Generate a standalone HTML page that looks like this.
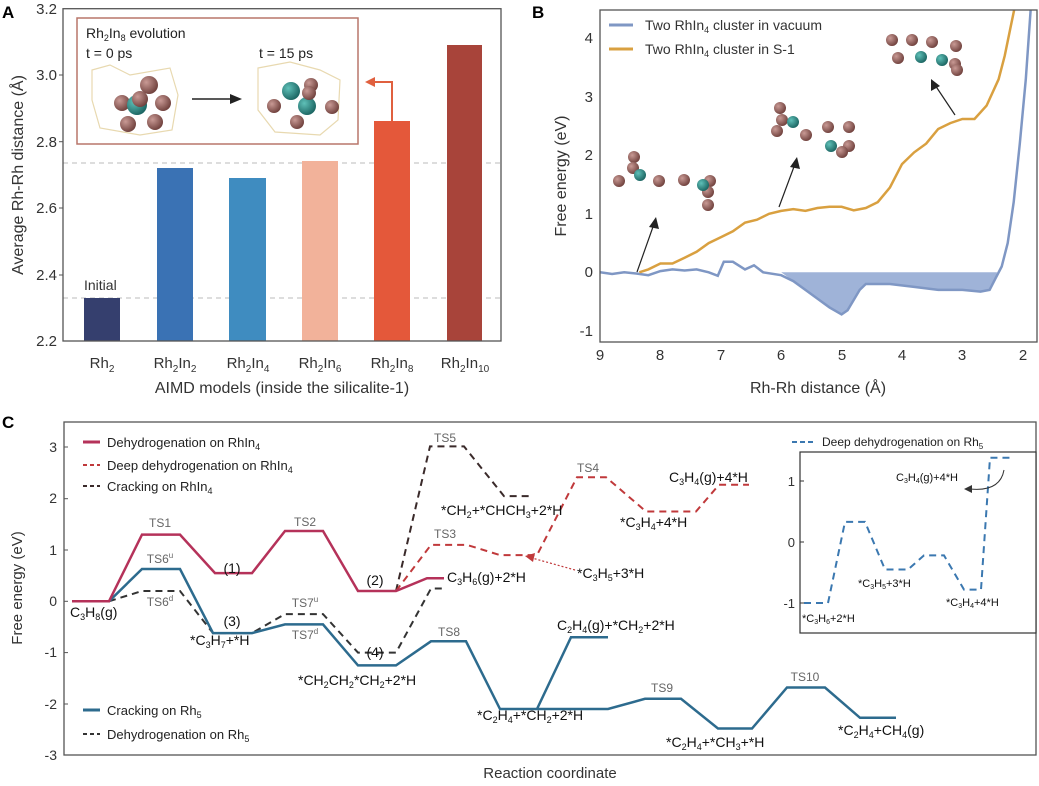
<!DOCTYPE html>
<html><head><meta charset="utf-8"><style>
body{margin:0;background:#fff}
svg{display:block;font-family:"Liberation Sans",sans-serif}
</style></head><body>
<svg width="1039" height="786" viewBox="0 0 1039 786" xmlns="http://www.w3.org/2000/svg">
<defs>
<radialGradient id="br" cx="0.35" cy="0.35" r="0.7"><stop offset="0" stop-color="#c99a95"/><stop offset="1" stop-color="#6e3f3b"/></radialGradient>
<radialGradient id="tl" cx="0.35" cy="0.35" r="0.7"><stop offset="0" stop-color="#5fc0b8"/><stop offset="1" stop-color="#1a6360"/></radialGradient>
<clipPath id="cb"><rect x="600" y="10" width="438" height="332"/></clipPath>
</defs>
<!-- PANEL A -->
<text x="2" y="18" font-size="17" font-weight="bold">A</text>
<g stroke="#bbb" stroke-dasharray="5,4" stroke-width="1"><line x1="63" y1="298" x2="501" y2="298"/><line x1="63" y1="163" x2="501" y2="163"/></g>
<rect x="84" y="298" width="36" height="43" fill="#353f6e"/>
<rect x="157" y="168" width="36" height="173" fill="#3a72b4"/>
<rect x="229" y="178" width="37" height="163" fill="#3f8cc0"/>
<rect x="302" y="161" width="36" height="180" fill="#f2b29a"/>
<rect x="374" y="121" width="36" height="220" fill="#e4583a"/>
<rect x="447" y="45" width="35" height="296" fill="#a8443a"/>
<rect x="63" y="8.7" width="438" height="332.3" fill="none" stroke="#555" stroke-width="1.3"/>
<g font-size="15" fill="#333" text-anchor="end">
<text x="57" y="14">3.2</text><text x="57" y="80">3.0</text><text x="57" y="147">2.8</text><text x="57" y="213">2.6</text><text x="57" y="280">2.4</text><text x="57" y="346">2.2</text></g>
<g stroke="#555"><line x1="63" y1="75" x2="59" y2="75"/><line x1="63" y1="141.7" x2="59" y2="141.7"/><line x1="63" y1="208" x2="59" y2="208"/><line x1="63" y1="275" x2="59" y2="275"/></g>
<text x="84" y="290" font-size="14" fill="#333">Initial</text>
<g font-size="15" fill="#333" text-anchor="middle">
<text x="102" y="368">Rh<tspan font-size="10" dy="4">2</tspan></text>
<text x="175" y="368">Rh<tspan font-size="10" dy="4">2</tspan><tspan dy="-4">In</tspan><tspan font-size="10" dy="4">2</tspan></text>
<text x="248" y="368">Rh<tspan font-size="10" dy="4">2</tspan><tspan dy="-4">In</tspan><tspan font-size="10" dy="4">4</tspan></text>
<text x="320" y="368">Rh<tspan font-size="10" dy="4">2</tspan><tspan dy="-4">In</tspan><tspan font-size="10" dy="4">6</tspan></text>
<text x="392" y="368">Rh<tspan font-size="10" dy="4">2</tspan><tspan dy="-4">In</tspan><tspan font-size="10" dy="4">8</tspan></text>
<text x="465" y="368">Rh<tspan font-size="10" dy="4">2</tspan><tspan dy="-4">In</tspan><tspan font-size="10" dy="4">10</tspan></text>
<text x="282" y="393" font-size="16">AIMD models (inside the silicalite-1)</text>
<text transform="translate(23,175) rotate(-90)" font-size="16">Average Rh-Rh distance (Å)</text>
</g>
<rect x="77" y="18" width="281" height="126" fill="#fff" stroke="#b9766a" stroke-width="1.5"/>
<text x="86" y="38" font-size="14" fill="#222">Rh<tspan font-size="9" dy="3">2</tspan><tspan dy="-3">In</tspan><tspan font-size="9" dy="3">8</tspan><tspan dy="-3"> evolution</tspan></text>
<text x="86" y="58" font-size="14" fill="#222">t = 0 ps</text>
<text x="259" y="58" font-size="14" fill="#222">t = 15 ps</text>
<line x1="192" y1="99" x2="232" y2="99" stroke="#222" stroke-width="1.5"/><polygon points="242,99 230,94 230,104" fill="#222"/>
<g fill="none" stroke="#e8d9b0" stroke-width="1.2"><path d="M92,70 L110,65 L130,75 L170,68 L178,95 L172,130 L140,135 L100,128 L92,100Z"/><path d="M258,68 L290,62 L320,70 L340,80 L338,120 L320,135 L275,132 L258,110Z"/></g>
<circle cx="149" cy="85" r="9" fill="url(#br)"/><circle cx="122" cy="103" r="8" fill="url(#br)"/><circle cx="137" cy="105" r="10" fill="url(#tl)"/><circle cx="140" cy="99" r="8" fill="url(#br)"/><circle cx="163" cy="103" r="8" fill="url(#br)"/><circle cx="128" cy="124" r="8" fill="url(#br)"/><circle cx="155" cy="122" r="8" fill="url(#br)"/>
<circle cx="291" cy="91" r="9" fill="url(#tl)"/><circle cx="311" cy="85" r="7" fill="url(#br)"/><circle cx="307" cy="106" r="9" fill="url(#tl)"/><circle cx="309" cy="93" r="7" fill="url(#br)"/><circle cx="274" cy="106" r="7" fill="url(#br)"/><circle cx="332" cy="107" r="7" fill="url(#br)"/><circle cx="297" cy="122" r="7" fill="url(#br)"/>
<polyline points="392,121 392,82 372,82" fill="none" stroke="#e0603f" stroke-width="2"/><polygon points="365,82 375,77 375,87" fill="#e0603f"/>

<!-- PANEL B -->
<text x="532" y="18" font-size="17" font-weight="bold">B</text>
<g clip-path="url(#cb)">
<polygon points="781.2,272.3 793.3,281.1 805.4,289.9 817.4,298.6 829.5,307.4 841.6,314.4 847.6,310.3 859.7,289.9 865.8,284 889.9,284 914.1,286.9 938.2,289.9 962.4,289.9 980.5,291.6 989.6,289.9 995.6,278.2 997,272.3" fill="#9fb3d8"/>
<polyline points="600,272.3 612.1,274 624.2,272.3 636.2,273.5 648.3,275.2 660.4,271.1 672.5,269.4 684.6,270.5 696.6,269.4 708.7,272.3 717.8,275.8 723.8,261.8 732.9,261.8 745,269.4 754,265.3 763.1,272.3 781.2,275.2 793.3,281.1 805.4,289.9 817.4,298.6 829.5,307.4 841.6,314.4 847.6,310.3 859.7,289.9 865.8,284 889.9,284 914.1,286.9 938.2,289.9 962.4,289.9 980.5,291.6 989.6,289.9 995.6,278.2 1001.7,266.5 1007.7,243.1 1013.7,202.1 1019.8,143.6 1025.8,79.3 1030.7,9" fill="none" stroke="#7f97c4" stroke-width="2.5"/>
<polyline points="639.3,272.3 648.3,269.4 660.4,263.5 672.5,263.5 684.6,257.7 696.6,251.8 708.7,243.1 720.8,237.2 732.9,231.3 745,222.6 757,219.7 769.1,213.8 781.2,210.9 793.3,209.1 805.4,210.9 817.4,208 829.5,206.8 841.6,206.8 853.7,210.3 865.8,208 877.8,202.1 889.9,187.5 902,164.1 914.1,152.4 926.2,143.6 938.2,129 950.3,123.1 962.4,119 974.5,119 986.6,105.6 998.6,79.3 1004.7,55.9 1010.7,26.6 1015.6,3" fill="none" stroke="#d9a040" stroke-width="2.5"/>
</g>
<rect x="600" y="10" width="437" height="332" fill="none" stroke="#555" stroke-width="1.3"/>
<g font-size="15" fill="#333" text-anchor="end">
<text x="593" y="43">4</text><text x="593" y="102">3</text><text x="593" y="160">2</text><text x="593" y="219">1</text><text x="593" y="277">0</text><text x="593" y="336">-1</text></g>
<g font-size="15" fill="#333" text-anchor="middle">
<text x="600" y="360">9</text><text x="660" y="360">8</text><text x="721" y="360">7</text><text x="781" y="360">6</text><text x="842" y="360">5</text><text x="902" y="360">4</text><text x="962" y="360">3</text><text x="1023" y="360">2</text>
<text x="818" y="393" font-size="16">Rh-Rh distance (Å)</text>
<text transform="translate(566,176) rotate(-90)" font-size="16">Free energy (eV)</text></g>
<line x1="609" y1="25" x2="633" y2="25" stroke="#7f97c4" stroke-width="3"/>
<line x1="609" y1="49" x2="633" y2="49" stroke="#d9a040" stroke-width="3"/>
<text x="645" y="30" font-size="14" fill="#333">Two RhIn<tspan font-size="9" dy="3">4</tspan><tspan dy="-3"> cluster in vacuum</tspan></text>
<text x="645" y="54" font-size="14" fill="#333">Two RhIn<tspan font-size="9" dy="3">4</tspan><tspan dy="-3"> cluster in S-1</tspan></text>
<g fill="url(#br)"><circle cx="619" cy="181" r="6"/><circle cx="634" cy="157" r="6"/><circle cx="633" cy="168" r="6"/><circle cx="659" cy="181" r="6"/><circle cx="684" cy="180" r="6"/><circle cx="710" cy="181" r="6"/><circle cx="708" cy="205" r="6"/><circle cx="708" cy="192" r="6"/>
<circle cx="780" cy="108" r="6"/><circle cx="782" cy="120" r="6"/><circle cx="777" cy="131" r="6"/><circle cx="806" cy="135" r="6"/><circle cx="828" cy="127" r="6"/><circle cx="849" cy="127" r="6"/><circle cx="849" cy="146" r="6"/><circle cx="842" cy="152" r="6"/>
<circle cx="892" cy="40" r="6"/><circle cx="912" cy="40" r="6"/><circle cx="932" cy="42" r="6"/><circle cx="956" cy="46" r="6"/><circle cx="898" cy="58" r="6"/><circle cx="955" cy="64" r="6"/><circle cx="957" cy="70" r="6"/></g>
<g fill="url(#tl)"><circle cx="640" cy="175" r="6"/><circle cx="703" cy="185" r="6"/><circle cx="793" cy="122" r="6"/><circle cx="831" cy="146" r="6"/><circle cx="921" cy="57" r="6"/><circle cx="942" cy="60" r="6"/></g>
<g stroke="#222" stroke-width="1.2"><line x1="637" y1="272" x2="654" y2="224"/><line x1="779" y1="207" x2="795" y2="164"/><line x1="955" y1="115" x2="935" y2="85"/></g>
<g fill="#222"><polygon points="656,217 649,227 659,229"/><polygon points="797,157 790,167 800,169"/><polygon points="931,79 931,91 940,86"/></g>

<!-- PANEL C -->
<text x="2" y="428" font-size="17" font-weight="bold">C</text>
<rect x="64" y="422" width="972" height="333" fill="none" stroke="#555" stroke-width="1.3"/>
<g font-size="14" fill="#333" text-anchor="end">
<text x="57" y="452">3</text><text x="57" y="503">2</text><text x="57" y="555">1</text><text x="57" y="606">0</text><text x="57" y="657">-1</text><text x="57" y="709">-2</text><text x="57" y="760">-3</text></g>
<g stroke="#555"><line x1="64" y1="447" x2="68" y2="447"/><line x1="64" y1="498.7" x2="68" y2="498.7"/><line x1="64" y1="550" x2="68" y2="550"/><line x1="64" y1="601.3" x2="68" y2="601.3"/><line x1="64" y1="652.6" x2="68" y2="652.6"/><line x1="64" y1="704" x2="68" y2="704"/></g>
<text x="550" y="778" font-size="15" fill="#333" text-anchor="middle">Reaction coordinate</text>
<text transform="translate(22,588) rotate(-90)" font-size="15" fill="#333" text-anchor="middle">Free energy (eV)</text>
<g fill="none" stroke-width="2.5">
<path d="M396,591 L430,446.4 H464 L504,496.1 H533" stroke="#3a2a2a" stroke-dasharray="7,5" stroke-width="2"/>
<path d="M396,591 L431,544.9 H467 L500,555.1 H537 L577,477.2 H606 L646,511.5 H696 L719,484.8 H749" stroke="#c0393b" stroke-dasharray="7,5" stroke-width="2"/>
<path d="M109,601.3 L142,591 H180 L213,633.1 H252 L285,614.1 H323 L358,652.6 H396 L431,588.5 H444" stroke="#333" stroke-dasharray="7,5" stroke-width="2"/>
<path d="M109,601.3 L142,569 H180 L213,633.1 H252 L285,624.4 H323 L358,665.4 H396 L431,641.3 H466 L500,709 H608 L645,698.8 H681 L718,728.5 H752 L787,687.5 H825 L860,717.8 H896 M537,709 L571,637.2 H608" stroke="#2d6b8e"/>
<path d="M72,601.3 H109 L142,534.6 H180 L215,573.1 H252 L285,531 H323 L358,591 H396 L427,578.2 H444" stroke="#b5325a"/>
</g>
<line x1="575" y1="570" x2="532" y2="558" stroke="#c0393b" stroke-width="1.2" stroke-dasharray="2,2"/><polygon points="525,556 535,553 533,562" fill="#c0393b"/>
<g font-size="14" fill="#111">
<text x="70" y="617">C<tspan font-size="9" dy="3">3</tspan><tspan dy="-3">H</tspan><tspan font-size="9" dy="3">8</tspan><tspan dy="-3">(g)</tspan></text>
<text x="190" y="645">*C<tspan font-size="9" dy="3">3</tspan><tspan dy="-3">H</tspan><tspan font-size="9" dy="3">7</tspan><tspan dy="-3">+*H</tspan></text>
<text x="298" y="685">*CH<tspan font-size="9" dy="3">2</tspan><tspan dy="-3">CH</tspan><tspan font-size="9" dy="3">2</tspan><tspan dy="-3">*CH</tspan><tspan font-size="9" dy="3">2</tspan><tspan dy="-3">+2*H</tspan></text>
<text x="447" y="582">C<tspan font-size="9" dy="3">3</tspan><tspan dy="-3">H</tspan><tspan font-size="9" dy="3">6</tspan><tspan dy="-3">(g)+2*H</tspan></text>
<text x="557" y="630">C<tspan font-size="9" dy="3">2</tspan><tspan dy="-3">H</tspan><tspan font-size="9" dy="3">4</tspan><tspan dy="-3">(g)+*CH</tspan><tspan font-size="9" dy="3">2</tspan><tspan dy="-3">+2*H</tspan></text>
<text x="477" y="720">*C<tspan font-size="9" dy="3">2</tspan><tspan dy="-3">H</tspan><tspan font-size="9" dy="3">4</tspan><tspan dy="-3">+*CH</tspan><tspan font-size="9" dy="3">2</tspan><tspan dy="-3">+2*H</tspan></text>
<text x="666" y="747">*C<tspan font-size="9" dy="3">2</tspan><tspan dy="-3">H</tspan><tspan font-size="9" dy="3">4</tspan><tspan dy="-3">+*CH</tspan><tspan font-size="9" dy="3">3</tspan><tspan dy="-3">+*H</tspan></text>
<text x="838" y="735">*C<tspan font-size="9" dy="3">2</tspan><tspan dy="-3">H</tspan><tspan font-size="9" dy="3">4</tspan><tspan dy="-3">+CH</tspan><tspan font-size="9" dy="3">4</tspan><tspan dy="-3">(g)</tspan></text>
<text x="577" y="578">*C<tspan font-size="9" dy="3">3</tspan><tspan dy="-3">H</tspan><tspan font-size="9" dy="3">5</tspan><tspan dy="-3">+3*H</tspan></text>
<text x="441" y="515">*CH<tspan font-size="9" dy="3">2</tspan><tspan dy="-3">+*CHCH</tspan><tspan font-size="9" dy="3">3</tspan><tspan dy="-3">+2*H</tspan></text>
<text x="620" y="527">*C<tspan font-size="9" dy="3">3</tspan><tspan dy="-3">H</tspan><tspan font-size="9" dy="3">4</tspan><tspan dy="-3">+4*H</tspan></text>
<text x="669" y="482">C<tspan font-size="9" dy="3">3</tspan><tspan dy="-3">H</tspan><tspan font-size="9" dy="3">4</tspan><tspan dy="-3">(g)+4*H</tspan></text>
<text x="232" y="573" text-anchor="middle">(1)</text><text x="375" y="585" text-anchor="middle">(2)</text><text x="232" y="626" text-anchor="middle">(3)</text><text x="375" y="657" text-anchor="middle">(4)</text>
</g>
<g font-size="12" fill="#666" text-anchor="middle">
<text x="160" y="527">TS1</text><text x="305" y="526">TS2</text><text x="160" y="563">TS6<tspan font-size="8" dy="-5">u</tspan></text><text x="160" y="606">TS6<tspan font-size="8" dy="-5">d</tspan></text>
<text x="305" y="607">TS7<tspan font-size="8" dy="-5">u</tspan></text><text x="305" y="639">TS7<tspan font-size="8" dy="-5">d</tspan></text>
<text x="449" y="636">TS8</text><text x="662" y="692">TS9</text><text x="805" y="681">TS10</text>
<text x="445" y="538">TS3</text><text x="445" y="442">TS5</text><text x="588" y="472">TS4</text>
<text x="855" y="517">TS11</text><text x="932" y="547">TS12</text></g>
<!-- legends -->
<line x1="83" y1="442" x2="100" y2="442" stroke="#b5325a" stroke-width="3"/>
<line x1="83" y1="465" x2="100" y2="465" stroke="#c0393b" stroke-width="2" stroke-dasharray="4,3"/>
<line x1="83" y1="486" x2="100" y2="486" stroke="#3a2a2a" stroke-width="2" stroke-dasharray="4,3"/>
<line x1="83" y1="710" x2="100" y2="710" stroke="#2d6b8e" stroke-width="3"/>
<line x1="83" y1="734" x2="100" y2="734" stroke="#333" stroke-width="2" stroke-dasharray="4,3"/>
<g font-size="13" fill="#222">
<text x="107" y="447">Dehydrogenation on RhIn<tspan font-size="9" dy="3">4</tspan></text>
<text x="107" y="470">Deep dehydrogenation on RhIn<tspan font-size="9" dy="3">4</tspan></text>
<text x="107" y="491">Cracking on RhIn<tspan font-size="9" dy="3">4</tspan></text>
<text x="107" y="715">Cracking on Rh<tspan font-size="9" dy="3">5</tspan></text>
<text x="107" y="739">Dehydrogenation on Rh<tspan font-size="9" dy="3">5</tspan></text>
<text x="822" y="446" font-size="12">Deep dehydrogenation on Rh<tspan font-size="8" dy="3">5</tspan></text></g>
<line x1="792" y1="442" x2="816" y2="442" stroke="#3b78b0" stroke-width="2" stroke-dasharray="5,3"/>
<!-- inset -->
<rect x="800" y="452" width="236" height="181" fill="#fff" stroke="#333" stroke-width="1.2"/>
<path d="M804,603 H828 L845,521.9 H865 L885,569.5 H908 L924,555.4 H944 L964,589.6 H981 L990,457.8 H1014" fill="none" stroke="#3b78b0" stroke-width="2" stroke-dasharray="7,5"/>
<g font-size="13" fill="#333" text-anchor="end"><text x="795" y="486">1</text><text x="795" y="547">0</text><text x="795" y="608">-1</text></g>
<g stroke="#333"><line x1="800" y1="481" x2="804" y2="481"/><line x1="800" y1="542" x2="804" y2="542"/><line x1="800" y1="603" x2="804" y2="603"/></g>
<g font-size="11" fill="#111">
<text x="802" y="622">*C<tspan font-size="7" dy="2">3</tspan><tspan dy="-2">H</tspan><tspan font-size="7" dy="2">6</tspan><tspan dy="-2">+2*H</tspan></text>
<text x="858" y="587">*C<tspan font-size="7" dy="2">3</tspan><tspan dy="-2">H</tspan><tspan font-size="7" dy="2">5</tspan><tspan dy="-2">+3*H</tspan></text>
<text x="946" y="606">*C<tspan font-size="7" dy="2">3</tspan><tspan dy="-2">H</tspan><tspan font-size="7" dy="2">4</tspan><tspan dy="-2">+4*H</tspan></text>
<text x="896" y="481">C<tspan font-size="7" dy="2">3</tspan><tspan dy="-2">H</tspan><tspan font-size="7" dy="2">4</tspan><tspan dy="-2">(g)+4*H</tspan></text></g>
<path d="M1004,470 Q1000,492 970,489" fill="none" stroke="#333" stroke-width="1"/><polygon points="964,489 972,485 972,493" fill="#333"/>
</svg>
</body></html>
